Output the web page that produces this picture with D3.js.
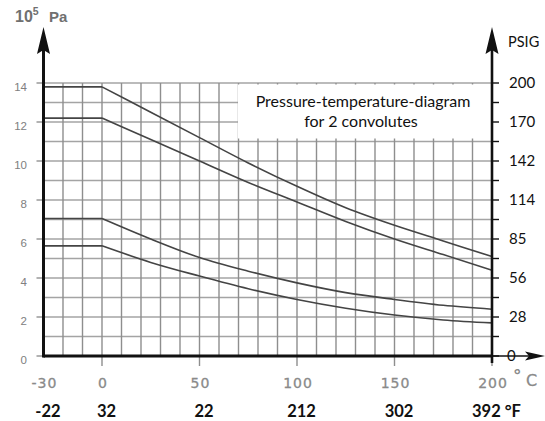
<!DOCTYPE html>
<html>
<head>
<meta charset="utf-8">
<script src="https://cdn.jsdelivr.net/npm/d3@7"></script>
<style>
  body { margin: 0; background: #fff; }
  svg { display: block; }
</style>
</head>
<body>
<div id="chart"></div>
<script>
// chart values
const temps = [-30, 0, 25, 50, 75, 100, 125, 150, 175, 200];
const curveA = [13.8, 13.8, 12.5, 11.2, 9.9, 8.7, 7.6, 6.7, 5.9, 5.1];
const curveB = [12.2, 12.2, 11.1, 10.0, 8.9, 7.9, 6.9, 6.0, 5.2, 4.4];
const curveC = [7.05, 7.05, 6.0, 5.05, 4.35, 3.75, 3.25, 2.9, 2.6, 2.4];
const curveD = [5.65, 5.65, 4.8, 4.1, 3.45, 2.9, 2.45, 2.1, 1.85, 1.7];

const celsiusTicks = [-30, 0, 50, 100, 150, 200];
const celsiusLabels = ["-30", "0", "50", "100", "150", "200"];
const fahrenheitLabels = ["-22", "32", "22", "212", "302", "392 °F"];
const paTicks = [0, 2, 4, 6, 8, 10, 12, 14];
const psigLabels = ["0", "28", "56", "85", "114", "142", "170", "200"];

const width = 545, height = 421;

const svg = d3.select("#chart")
    .append("svg")
    .attr("width", width)
    .attr("height", height);

const x = d3.scaleLinear().domain([-30, 200]).range([43.5, 492]);
const y = d3.scaleLinear().domain([0, 14]).range([356, 83]);

// grid
const grid = svg.append("g");
grid.selectAll("line.h")
    .data(d3.range(0, 15))
    .join("line")
    .attr("class", "h")
    .attr("x1", x(-30)).attr("x2", x(200))
    .attr("y1", d => y(d)).attr("y2", d => y(d))
    .attr("stroke", "#a4a4a4")
    .attr("stroke-width", 1.7);
grid.selectAll("line.v")
    .data(d3.range(-20, 200, 10))
    .join("line")
    .attr("class", "v")
    .attr("x1", d => x(d)).attr("x2", d => x(d))
    .attr("y1", y(0)).attr("y2", y(14))
    .attr("stroke", "#8e8e8e")
    .attr("stroke-width", 1.4);

// ticks below the temperature axis
grid.selectAll("line.bt")
    .data(celsiusTicks.slice(1))
    .join("line")
    .attr("class", "bt")
    .attr("x1", d => x(d)).attr("x2", d => x(d))
    .attr("y1", y(0)).attr("y2", y(0) + 10)
    .attr("stroke", "#8e8e8e")
    .attr("stroke-width", 1.4);

// left ticks at even values
grid.selectAll("line.lt")
    .data(paTicks)
    .join("line")
    .attr("class", "lt")
    .attr("x1", x(-30) - 7).attr("x2", x(-30))
    .attr("y1", d => y(d)).attr("y2", d => y(d))
    .attr("stroke", "#a4a4a4")
    .attr("stroke-width", 1.7);

// white box behind the title
svg.append("rect")
    .attr("x", 238).attr("y", y(14) + 1.5)
    .attr("width", x(200) - 239).attr("height", 54)
    .attr("fill", "#fff");

// curves
const flat = d3.line().x(d => x(d[0])).y(d => y(d[1]));
const bend = d3.line().x(d => x(d[0])).y(d => y(d[1])).curve(d3.curveMonotoneX);

[curveA, curveB, curveC, curveD].forEach(vals => {
    const pts = temps.map((t, i) => [t, vals[i]]);
    svg.append("path")
        .attr("d", flat(pts.slice(0, 2)))
        .attr("fill", "none")
        .attr("stroke", "#444")
        .attr("stroke-width", 1.6);
    svg.append("path")
        .attr("d", bend(pts.slice(1)))
        .attr("fill", "none")
        .attr("stroke", "#444")
        .attr("stroke-width", 1.6);
});

// axes
const axes = svg.append("g").attr("stroke", "#111");
axes.append("line")
    .attr("x1", x(-30)).attr("x2", x(-30))
    .attr("y1", 50).attr("y2", y(0) + 1.5)
    .attr("stroke-width", 3);
axes.append("line")
    .attr("x1", x(-30)).attr("x2", x(200))
    .attr("y1", y(0)).attr("y2", y(0))
    .attr("stroke-width", 3);
axes.append("line")
    .attr("x1", x(200)).attr("x2", x(200))
    .attr("y1", 50).attr("y2", y(0) + 7)
    .attr("stroke-width", 2.6);
axes.append("line")
    .attr("x1", x(200)).attr("x2", 530)
    .attr("y1", y(0)).attr("y2", y(0))
    .attr("stroke-width", 1.5);

// right ticks
axes.selectAll("line.rt")
    .data(d3.range(0, 15))
    .join("line")
    .attr("class", "rt")
    .attr("x1", x(200)).attr("x2", x(200) + 7)
    .attr("y1", d => y(d)).attr("y2", d => y(d))
    .attr("stroke-width", 1.4);

// arrow heads
const arrows = svg.append("g").attr("fill", "#111");
arrows.append("path")
    .attr("d", `M${x(-30)},27 L${x(-30) - 6.5},54 L${x(-30)},50 L${x(-30) + 6.5},54 Z`);
arrows.append("path")
    .attr("d", `M${x(200)},27 L${x(200) - 6.5},54 L${x(200)},50 L${x(200) + 6.5},54 Z`);
arrows.append("path")
    .attr("d", `M545,${y(0)} L525,${y(0) - 4.5} L529,${y(0)} L525,${y(0) + 4.5} Z`);

// left labels
svg.append("g").selectAll("text")
    .data(paTicks)
    .join("text")
    .attr("x", 27)
    .attr("y", d => y(d) + 4)
    .attr("dy", "0.35em")
    .attr("text-anchor", "end")
    .attr("font-family", "Liberation Sans, Arial, sans-serif")
    .attr("font-size", 11.5)
    .attr("fill", "#808080")
    .text(d => d);

const unit = svg.append("text")
    .attr("x", 15).attr("y", 22)
    .attr("font-family", "Liberation Sans, Arial, sans-serif")
    .attr("font-weight", "bold")
    .attr("font-size", 16)
    .attr("fill", "#707070");
unit.append("tspan").text("10");
unit.append("tspan").attr("dy", -7).attr("font-size", 10.5).text("5");
unit.append("tspan").attr("x", 49).attr("dy", 7).attr("font-size", 15).text("Pa");

// right labels
svg.append("g").selectAll("text")
    .data(paTicks)
    .join("text")
    .attr("x", (d, i) => i === 0 ? 507 : 509)
    .attr("y", d => y(d))
    .attr("dy", "0.35em")
    .attr("font-family", "Lato, 'Noto Sans', sans-serif")
    .attr("font-size", 15)
    .attr("fill", "#111")
    .text((d, i) => psigLabels[i]);

svg.append("text")
    .attr("x", 508).attr("y", 47)
    .attr("font-family", "Lato, 'Noto Sans', sans-serif")
    .attr("font-size", 14.5)
    .attr("fill", "#111")
    .text("PSIG");

// celsius labels
svg.append("g").selectAll("text")
    .data(celsiusTicks)
    .join("text")
    .attr("x", d => x(d) + 1)
    .attr("y", 388)
    .attr("text-anchor", "middle")
    .attr("font-family", "DejaVu Sans, sans-serif")
    .attr("font-size", 14)
    .attr("letter-spacing", 1)
    .attr("stroke", "#8a8a8a")
    .attr("stroke-width", 0.3)
    .attr("fill", "#8a8a8a")
    .text((d, i) => celsiusLabels[i]);

svg.append("text")
    .attr("x", 513).attr("y", 382)
    .attr("font-family", "DejaVu Sans, sans-serif")
    .attr("font-size", 17)
    .attr("font-weight", "bold")
    .attr("fill", "#8a8a8a")
    .text("°");
svg.append("text")
    .attr("x", 526).attr("y", 386)
    .attr("font-family", "DejaVu Sans, sans-serif")
    .attr("font-size", 16)
    .attr("stroke", "#8a8a8a")
    .attr("stroke-width", 0.3)
    .attr("fill", "#8a8a8a")
    .text("C");

// fahrenheit labels
svg.append("g").selectAll("text")
    .data(celsiusTicks)
    .join("text")
    .attr("x", d => x(d) + 4.5)
    .attr("y", 417)
    .attr("text-anchor", "middle")
    .attr("font-family", "Lato, 'Noto Sans', sans-serif")
    .attr("font-weight", "bold")
    .attr("font-size", 16.5)
    .attr("fill", "#111")
    .text((d, i) => fahrenheitLabels[i]);

// title inside box
const title = svg.append("text")
    .attr("text-anchor", "middle")
    .attr("font-family", "Lato, 'Noto Sans', sans-serif")
    .attr("font-size", 16)
    .attr("fill", "#111");
title.append("tspan").attr("x", 363).attr("y", 107).text("Pressure-temperature-diagram");
title.append("tspan").attr("x", 361).attr("y", 127).text("for 2 convolutes");
</script>
</body>
</html>
